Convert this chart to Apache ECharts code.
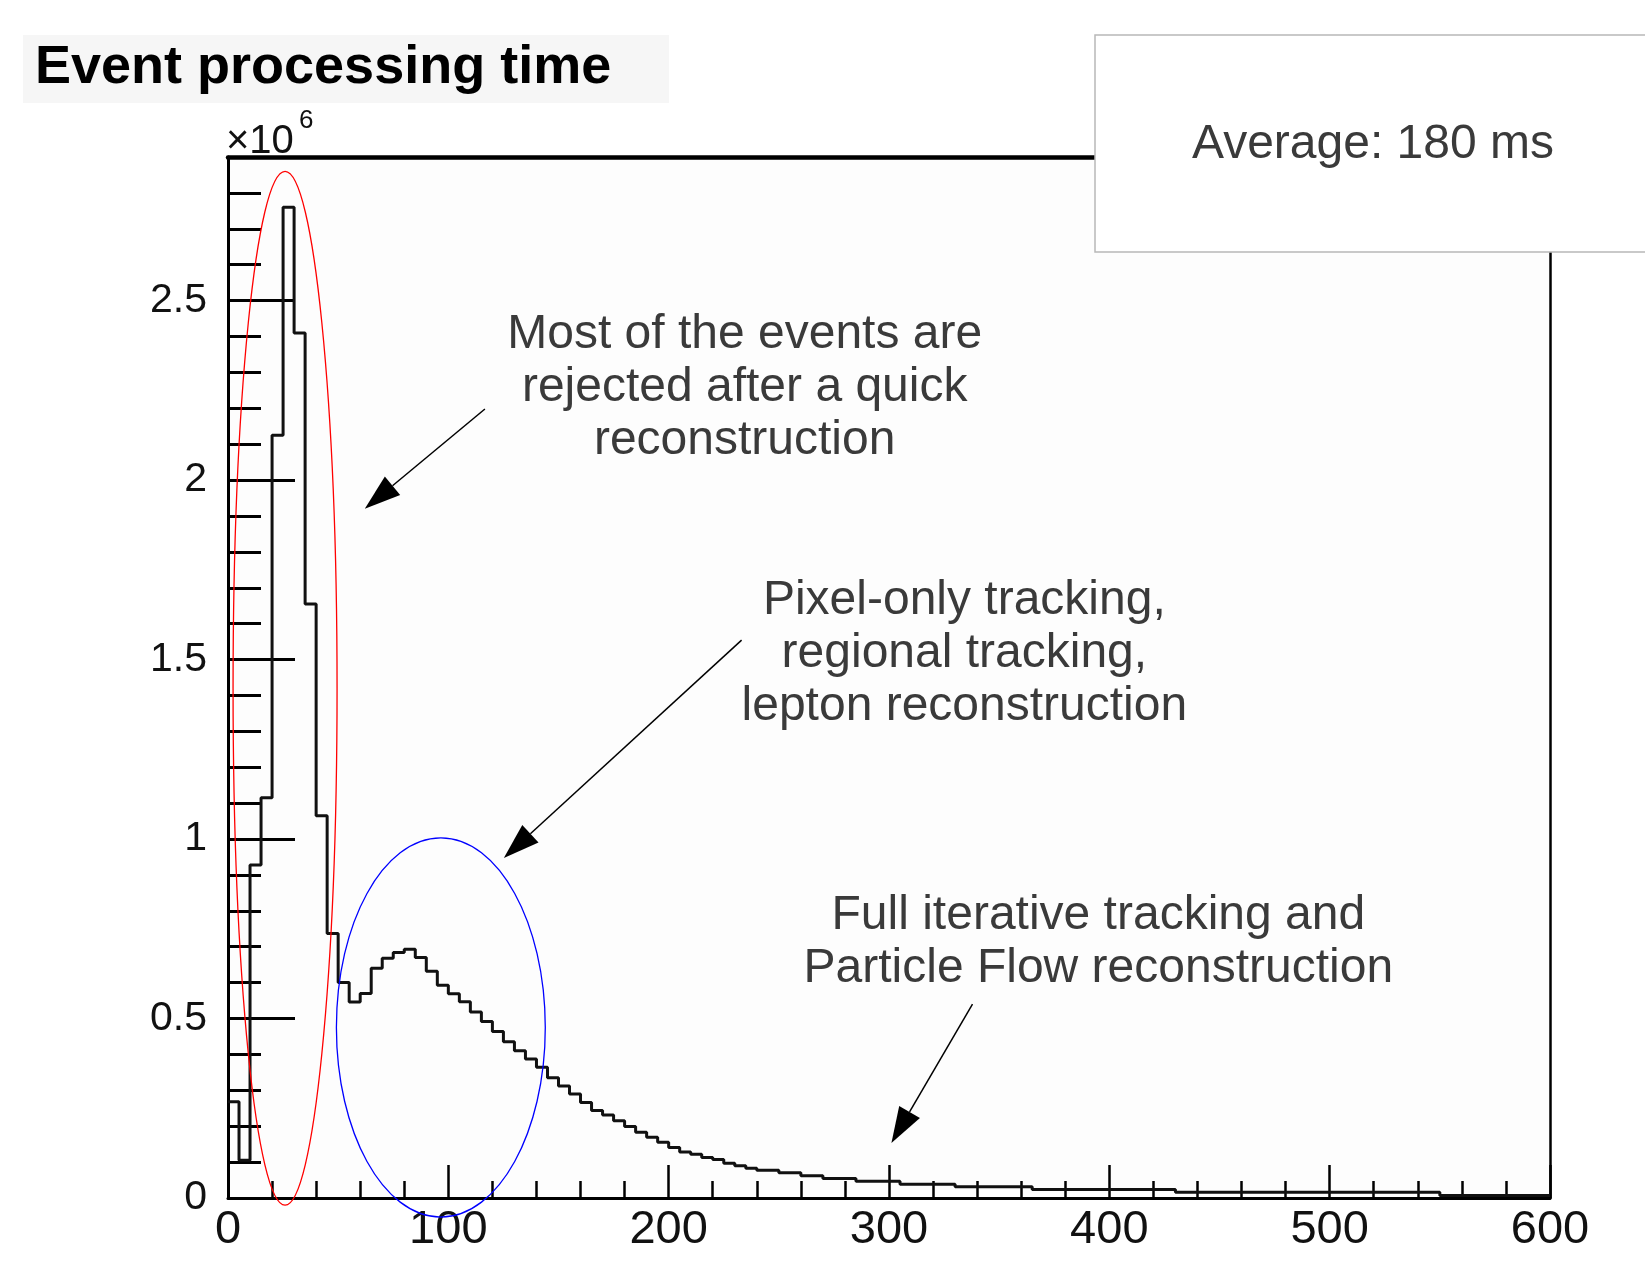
<!DOCTYPE html>
<html>
<head>
<meta charset="utf-8">
<title>Event processing time</title>
<script src="https://cdn.jsdelivr.net/npm/echarts@6/dist/echarts.min.js"></script>
<style>
  html, body { margin: 0; padding: 0; background: #ffffff; }
  #chart { width: 1645px; height: 1261px; }
</style>
</head>
<body>
<div id="chart"></div>
<script>
// event processing time histogram, 5 ms bins from 0 to 600 ms
// counts are in units of 10^6 events
const binWidth = 5;
const counts = [
  0.268, 0.105, 0.928, 1.115, 2.125, 2.76, 2.41, 1.655, 1.065, 0.737,
  0.600, 0.546, 0.570, 0.640, 0.668, 0.684, 0.693, 0.670, 0.632, 0.593,
  0.569, 0.547, 0.518, 0.492, 0.464, 0.435, 0.410, 0.387, 0.364, 0.335,
  0.312, 0.290, 0.266, 0.244, 0.231, 0.215, 0.199, 0.183, 0.169, 0.155,
  0.141, 0.128, 0.122, 0.113, 0.107, 0.097, 0.090, 0.083, 0.077, 0.077,
  0.070, 0.070, 0.062, 0.062, 0.054, 0.054, 0.054, 0.047, 0.047, 0.047,
  0.047, 0.038, 0.038, 0.038, 0.038, 0.038, 0.031, 0.031, 0.031, 0.031,
  0.031, 0.031, 0.031, 0.024, 0.024, 0.024, 0.024, 0.024, 0.024, 0.024,
  0.024, 0.024, 0.024, 0.024, 0.024, 0.024, 0.016, 0.016, 0.016, 0.016,
  0.016, 0.016, 0.016, 0.016, 0.016, 0.016, 0.016, 0.016, 0.016, 0.016,
  0.016, 0.016, 0.016, 0.016, 0.016, 0.016, 0.016, 0.016, 0.016, 0.016,
  0.007, 0.007, 0.007, 0.007, 0.007, 0.007, 0.007, 0.007, 0.007, 0.007
];
const yLabelValues = [0, 0.5, 1, 1.5, 2, 2.5];

// annotations, anchored in data units (ms, 10^6 events)
const notes = [
  { lines: ['Most of the events are', 'rejected after a quick', 'reconstruction'], at: [234.5, 2.405] },
  { lines: ['Pixel-only tracking,', 'regional tracking,', 'lepton reconstruction'], at: [334.2, 1.665] },
  { lines: ['Full iterative tracking and', 'Particle Flow reconstruction'], at: [395.0, 0.785] }
];
const arrows = [
  { from: [116.6, 2.198], to: [62.1, 1.92] },
  { from: [233.1, 1.554], to: [125.2, 0.947] },
  { from: [337.9, 0.540], to: [301.1, 0.153] }
];
const ellipses = [
  { c: [25.9, 1.42], r: [23.6, 1.44], color: '#ff0000' },
  { c: [96.6, 0.475], r: [47.4, 0.528], color: '#0000ff' }
];

const FONT = '"Liberation Sans", Arial, Helvetica, sans-serif';

// step outline: one point per bin left edge, plus the right edge of the last bin
const histData = counts.map((v, i) => [i * binWidth, v]);
histData.push([counts.length * binWidth, counts[counts.length - 1]]);

const chart = echarts.init(document.getElementById('chart'));

const option = {
  animation: false,
  backgroundColor: '#ffffff',
  grid: {
    left: 228, right: 95, top: 157, bottom: 63,
    show: true, backgroundColor: '#fdfdfd', borderWidth: 0,
    outerBoundsMode: 'none'
  },
  xAxis: [
    {
      type: 'value', min: 0, max: 600, interval: 100, position: 'bottom', offset: 0,
      axisLine: { show: true, onZero: false, lineStyle: { color: '#000', width: 3 } },
      axisTick: { show: true, inside: true, length: 33, lineStyle: { color: '#000', width: 2.5 } },
      minorTick: { show: true, splitNumber: 5, length: 17, lineStyle: { color: '#000', width: 2.5 } },
      axisLabel: { margin: 9, fontSize: 47, color: '#111', fontFamily: FONT },
      splitLine: { show: false }
    },
    {
      type: 'value', min: 0, max: 600, position: 'top', offset: 0,
      axisLine: { show: true, onZero: false, lineStyle: { color: '#000', width: 4.5 } },
      axisTick: { show: false }, axisLabel: { show: false }, splitLine: { show: false }
    }
  ],
  yAxis: [
    {
      // minor ticks every 0.1 and the labels
      type: 'value', min: 0, max: 2.9, interval: 0.1, position: 'left', offset: 0,
      axisLine: { show: true, onZero: false, lineStyle: { color: '#000', width: 3 } },
      axisTick: { show: true, inside: true, length: 33, lineStyle: { color: '#000', width: 3 } },
      axisLabel: {
        margin: 21, fontSize: 41, color: '#111', fontFamily: FONT,
        formatter: (v) => yLabelValues.some((l) => Math.abs(l - v) < 1e-6) ? String(+v.toFixed(1)) : ''
      },
      splitLine: { show: false }
    },
    {
      // long ticks every 0.5
      type: 'value', min: 0, max: 2.9, interval: 0.5, position: 'left', offset: 0,
      axisLine: { show: false },
      axisTick: { show: true, inside: true, length: 67, lineStyle: { color: '#000', width: 3 } },
      axisLabel: { show: false }, splitLine: { show: false }
    },
    {
      type: 'value', min: 0, max: 2.9, position: 'right', offset: 0,
      axisLine: { show: true, onZero: false, lineStyle: { color: '#000', width: 2.5 } },
      axisTick: { show: false }, axisLabel: { show: false }, splitLine: { show: false }
    }
  ],
  series: [
    {
      type: 'line',
      step: 'end',
      xAxisIndex: 0,
      yAxisIndex: 0,
      data: histData,
      symbol: 'none',
      lineStyle: { color: '#111', width: 3 },
      z: 3
    }
  ]
};

chart.setOption(option);

// graphic layer: title, multiplier, average box, annotations
const toPx = (p) => chart.convertToPixel({ xAxisIndex: 0, yAxisIndex: 0 }, p);
const els = [];

els.push({ type: 'rect', shape: { x: 23, y: 35, width: 646, height: 68 }, style: { fill: '#f6f6f6' }, z: 50 });
els.push({ type: 'text', z: 51, style: { text: 'Event processing time', x: 35, y: 68, font: 'bold 54px ' + FONT, fill: '#000', textAlign: 'left', textVerticalAlign: 'middle' } });

els.push({ type: 'text', z: 51, style: { text: '×10', x: 226, y: 142, font: '40px ' + FONT, fill: '#111', textAlign: 'left', textVerticalAlign: 'middle' } });
els.push({ type: 'text', z: 51, style: { text: '6', x: 299, y: 121, font: '26px ' + FONT, fill: '#111', textAlign: 'left', textVerticalAlign: 'middle' } });

els.push({ type: 'rect', z: 100, shape: { x: 1095, y: 35, width: 600, height: 217 }, style: { fill: '#ffffff', stroke: '#b8b8b8', lineWidth: 1.5 } });
els.push({ type: 'text', z: 101, style: { text: 'Average: 180 ms', x: 1373, y: 145, font: '48px ' + FONT, fill: '#3a3a3a', textAlign: 'center', textVerticalAlign: 'middle' } });

notes.forEach((n) => {
  const p = toPx(n.at);
  n.lines.forEach((line, i) => {
    els.push({ type: 'text', z: 60, style: { text: line, x: p[0], y: p[1] + i * 53, font: '48px ' + FONT, fill: '#3a3a3a', textAlign: 'center', textVerticalAlign: 'middle' } });
  });
});

arrows.forEach((a) => {
  const p0 = toPx(a.from);
  const p1 = toPx(a.to);
  const dx = p1[0] - p0[0];
  const dy = p1[1] - p0[1];
  const len = Math.hypot(dx, dy);
  const ux = dx / len, uy = dy / len;
  const headLen = 36, headW = 12;
  const bx = p1[0] - ux * headLen, by = p1[1] - uy * headLen;
  els.push({ type: 'line', z: 60, shape: { x1: p0[0], y1: p0[1], x2: bx, y2: by }, style: { stroke: '#000', lineWidth: 1.5 } });
  els.push({ type: 'polygon', z: 60, shape: { points: [p1, [bx - uy * headW, by + ux * headW], [bx + uy * headW, by - ux * headW]] }, style: { fill: '#000' } });
});

ellipses.forEach((e) => {
  const c = toPx(e.c);
  const edge = toPx([e.c[0] + e.r[0], e.c[1] + e.r[1]]);
  els.push({ type: 'ellipse', z: 60, shape: { cx: c[0], cy: c[1], rx: Math.abs(edge[0] - c[0]), ry: Math.abs(c[1] - edge[1]) }, style: { fill: 'none', stroke: e.color, lineWidth: 1.3 } });
});

chart.setOption({ graphic: { elements: els } });

window.addEventListener('resize', function () {
  chart.resize();
});
</script>
</body>
</html>
